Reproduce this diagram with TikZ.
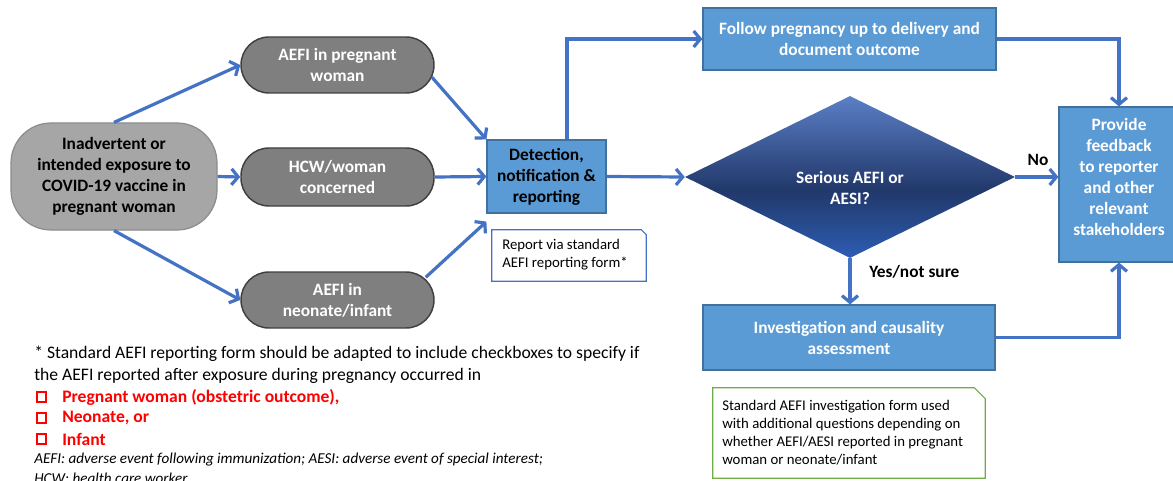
\documentclass[tikz,border=0pt]{standalone}
\usepackage{fontspec}
\setmainfont{Carlito}
\usetikzlibrary{arrows.meta,shapes.geometric,calc}
\definecolor{boxblue}{HTML}{5B9BD5}
\definecolor{boxedge}{HTML}{41719C}
\definecolor{arr}{HTML}{4472C4}
\definecolor{dgrey}{HTML}{7F7F7F}
\definecolor{dgedge}{HTML}{404040}
\definecolor{lgrey}{HTML}{A6A6A6}
\definecolor{lgedge}{HTML}{8C8C8C}
\definecolor{gnote}{HTML}{70AD47}
\definecolor{navy}{HTML}{21386A}
\definecolor{diatop}{HTML}{5B7FC6}
\definecolor{diabot}{HTML}{2D5DB3}
\pgfdeclareverticalshading{diashade}{100bp}{color(0bp)=(diabot); color(25bp)=(diabot); color(46bp)=(navy); color(75bp)=(diatop); color(100bp)=(diatop)}
\begin{document}
\begin{tikzpicture}[x=0.75pt,y=-0.75pt,
  nodefont/.style={font=\fontsize{13}{15.75}\selectfont\bfseries, align=center},
  mainpill/.style={rectangle, rounded corners=30pt, fill=lgrey, draw=lgedge, line width=0.9pt, nodefont, text=black, minimum width=154.5pt, minimum height=80.25pt, inner sep=0pt},
  greypill/.style={rectangle, rounded corners=21pt, fill=dgrey, draw=dgedge, line width=1.1pt, nodefont, text=white, minimum width=144.75pt, minimum height=42pt, inner sep=0pt},
  bluebox/.style={rectangle, fill=boxblue, draw=boxedge, line width=0.9pt, nodefont, inner sep=0pt},
  noteshape/.style={line width=0.8pt, fill=white},
  notetext/.style={font=\fontsize{11.1}{13.5}\selectfont, align=left, inner sep=0pt},
  flow/.style={draw=arr, line width=2.4pt, -{Straight Barb[length=5pt,width=12pt]}},
  lbl/.style={font=\fontsize{13}{15.75}\selectfont\bfseries, inner sep=0pt},
  foot/.style={font=\fontsize{13.2}{16.5}\selectfont, anchor=west, inner sep=0pt},
  redline/.style={font=\fontsize{13.2}{16.5}\selectfont\bfseries, text=red, anchor=west, inner sep=0pt},
  chk/.style={rectangle, draw=red, line width=1.5pt, minimum size=7pt, inner sep=0pt},
  ital/.style={font=\fontsize{11.35}{13.5}\selectfont\itshape, anchor=west, inner sep=0pt}
]
\useasboundingbox (0,0) rectangle (1173,481);

% left nodes
\node[mainpill] (main) at (114,176.5) {Inadvertent or\\intended exposure to\\COVID-19 vaccine in\\pregnant woman};
\node[greypill] (aefi) at (337.5,65) {AEFI in pregnant\\woman};
\node[greypill, minimum height=43.5pt] (hcw) at (337.5,177) {HCW/woman\\concerned};
\node[greypill] (neo) at (337.5,300) {AEFI in\\neonate/infant};

% detection
\node[bluebox, text=black, minimum width=89.25pt, minimum height=54.75pt] (det) at (546.5,176.5) {Detection,\\notification \&\\reporting};
\node[minimum width=115.5pt, minimum height=38.25pt, inner sep=0pt] (rep) at (569,255.5) {};
\draw[noteshape, draw=arr] (rep.south west) |- ($(rep.north east)+(-5,0)$) -- ($(rep.north east)+(0,5)$) |- cycle;
\node[notetext, anchor=north west] (reptxt) at (502,239) {Report via standard\\AEFI reporting form*};

% follow
\node[bluebox, text=white, minimum width=219.75pt, minimum height=46.5pt] (fol) at (849.5,39) {Follow pregnancy up to delivery and\\document outcome};

% diamond
\node[diamond, minimum width=247.5pt, minimum height=121.5pt, inner sep=0pt, shading=diashade, draw=none] (dia) at (850,177) {};
\node[nodefont, text=white, inner sep=0pt] (diatxt) at (850,188) {Serious AEFI or\\AESI?};

% provide
\node[bluebox, minimum width=90pt, minimum height=116.25pt] (prov) at (1119,184.5) {};
\node[nodefont, text=white, inner sep=0pt] (provtxt) at (1119,177) {Provide\\feedback\\to reporter\\and other\\relevant\\stakeholders};

% investigation
\node[bluebox, text=white, minimum width=219pt, minimum height=48.75pt] (inv) at (849,337.5) {Investigation and causality\\assessment};
\node[minimum width=204pt, minimum height=67.5pt, inner sep=0pt] (gn) at (849,433) {};
\draw[noteshape, draw=gnote] (gn.south west) |- ($(gn.north east)+(-11,0)$) -- ($(gn.north east)+(0,11)$) |- cycle;
\node[notetext, anchor=north west] (gntxt) at (722,400) {Standard AEFI investigation form used\\with additional questions depending on\\whether AEFI/AESI reported in pregnant\\woman or neonate/infant};

% connectors
\draw[flow] (main.north) -- (aefi.west);
\draw[flow] (main.east) -- (hcw.west);
\draw[flow] (main.south) -- (neo.west);
\draw[flow] ($(aefi.east)+(-3,12)$) -- (det.north west);
\draw[flow] (hcw.east) -- (det.west);
\draw[flow] ($(neo.north east)+(-9,6)$) -- ($(det.south west)+(0,8)$);
\draw[flow] ($(det.north)+(20.5,0)$) |- (fol.west);
\draw[flow] (det.east) -- (dia.west);
\draw[flow] (dia.east) -- (dia.east -| prov.west);
\draw[flow] (fol.east) -| (prov.north);
\draw[flow] (dia.south) -- (dia.south |- inv.north);
\draw[flow] (inv.east) -| (prov.south);

\node[lbl] (no) at (1038,160) {No};
\node[lbl, anchor=west] (yes) at (869,272) {Yes/not sure};

% footnote
\node[foot] (f1) at (34,354) {* Standard AEFI reporting form should be adapted to include checkboxes to specify if};
\node[foot] (f2) at (34,376) {the AEFI reported after exposure during pregnancy occurred in};
\node[chk] (c1) at (41.5,397) {};
\node[chk] (c2) at (41.5,418) {};
\node[chk] (c3) at (41.5,439) {};
\node[redline] (r1) at (62,397) {Pregnant woman (obstetric outcome),};
\node[redline] (r2) at (62,418) {Neonate, or};
\node[redline] (r3) at (62,439) {Infant};
\node[ital] (i1) at (34,460) {AEFI: adverse event following immunization; AESI: adverse event of special interest;};
\node[ital] (i2) at (34,478) {HCW: health care worker};
\end{tikzpicture}
\end{document}
